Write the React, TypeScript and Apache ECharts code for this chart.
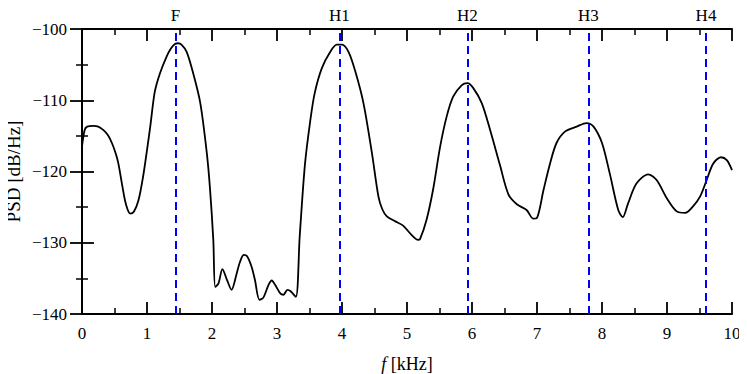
import React, { useEffect, useRef } from "react";
import * as echarts from "echarts";

const freqKHz = [
  0.0, 0.04, 0.08, 0.17, 0.25, 0.33, 0.4, 0.46, 0.52, 0.56, 0.61, 0.66, 0.7, 0.74, 0.8, 0.87, 0.94, 1.0,
  1.05, 1.12, 1.2, 1.3, 1.37, 1.43, 1.48, 1.53, 1.61, 1.71, 1.82, 1.92, 1.97, 2.02, 2.05, 2.1, 2.16,
  2.23, 2.3, 2.38, 2.43, 2.49, 2.54, 2.61, 2.66, 2.73, 2.79, 2.87, 2.92, 2.97, 3.05, 3.1, 3.16, 3.21,
  3.29, 3.35, 3.43, 3.51, 3.58, 3.69, 3.82, 3.92, 4.0, 4.1, 4.2, 4.33, 4.46, 4.56, 4.62, 4.69, 4.82,
  4.94, 5.07, 5.17, 5.2, 5.3, 5.4, 5.51, 5.61, 5.71, 5.84, 5.93, 6.02, 6.15, 6.28, 6.43, 6.56, 6.69,
  6.84, 6.94, 7.0, 7.1, 7.2, 7.3, 7.43, 7.61, 7.76, 7.87, 8.0, 8.12, 8.25, 8.32, 8.4, 8.53, 8.71, 8.84,
  9.0, 9.15, 9.28, 9.4, 9.51, 9.61, 9.71, 9.83, 9.92, 10.0,
];

const psdDb = [
  -116.5, -114.2, -113.7, -113.6, -113.7, -114.2, -114.9, -116.0, -117.5, -118.9, -121.5, -124.0,
  -125.3, -125.9, -125.6, -124.0, -120.7, -117.0, -113.7, -108.8, -106.2, -103.9, -102.7, -102.1,
  -102.0, -102.2, -103.2, -106.2, -110.4, -117.4, -122.5, -129.6, -136.2, -135.7, -133.7, -135.2,
  -136.6, -134.3, -132.7, -131.7, -131.9, -133.4, -135.2, -138.0, -137.7, -135.9, -135.3, -135.9,
  -137.1, -137.3, -136.6, -136.8, -137.6, -129.0, -119.0, -113.0, -109.0, -105.5, -103.2, -102.2,
  -102.2, -103.2, -105.8, -110.4, -117.4, -123.5, -125.3, -126.3, -127.0, -127.6, -128.9, -129.6,
  -129.5, -126.8, -122.6, -116.5, -112.3, -109.5, -107.9, -107.6, -108.3, -110.4, -114.2, -119.1,
  -123.2, -124.6, -125.4, -126.6, -126.5, -122.6, -118.9, -116.0, -114.4, -113.7, -113.2, -113.7,
  -116.0, -120.3, -125.4, -126.4, -124.5, -121.7, -120.4, -121.2, -123.8, -125.6, -125.8, -124.9,
  -123.5, -121.2, -118.9, -118.0, -118.4, -119.8,
];

const harmonicNames = ["F", "H1", "H2", "H3", "H4"];
const harmonicFreqs = [1.44, 3.96, 5.93, 7.79, 9.6];

const FONT = "'Liberation Serif', 'DejaVu Serif', serif";

export default function App() {
  const ref = useRef<HTMLDivElement>(null);

  useEffect(() => {
    if (!ref.current) return;
    const chart = echarts.init(ref.current, undefined, { renderer: "svg" });
    const minus = (v: number) => (v < 0 ? "\u2212" + Math.abs(v) : String(v));
    const axisLine = { show: true, lineStyle: { color: "#000", width: 2 } };
    const tick = { show: true, inside: true, length: 12, lineStyle: { color: "#000", width: 1.8 } };
    const minor = { show: true, splitNumber: 2, length: 6, lineStyle: { color: "#000", width: 1.5 } };

    chart.setOption({
      animation: false,
      grid: { left: 82, right: 15, top: 29, bottom: 60, outerBoundsMode: "none", containLabel: false },
      xAxis: [
        {
          type: "value",
          min: 0,
          max: 10,
          interval: 1,
          position: "bottom",
          name: "{i|f} [kHz]",
          nameLocation: "middle",
          nameGap: 41,
          nameMoveOverlap: false,
          nameTextStyle: {
            color: "#000",
            fontFamily: FONT,
            fontSize: 18,
            rich: { i: { fontStyle: "italic", fontFamily: FONT, fontSize: 18, color: "#000" } },
          },
          axisLine,
          axisTick: tick,
          minorTick: minor,
          splitLine: { show: false },
          axisLabel: { color: "#000", fontFamily: FONT, fontSize: 17, margin: 11 },
        },
        {
          type: "value",
          min: 0,
          max: 10,
          interval: 1,
          position: "top",
          axisLine,
          axisTick: tick,
          minorTick: minor,
          splitLine: { show: false },
          axisLabel: { show: false },
        },
      ],
      yAxis: [
        {
          type: "value",
          min: -140,
          max: -100,
          interval: 10,
          position: "left",
          name: "PSD [dB/Hz]",
          nameLocation: "middle",
          nameGap: 59,
          nameMoveOverlap: false,
          nameTextStyle: { color: "#000", fontFamily: FONT, fontSize: 19 },
          axisLine,
          axisTick: tick,
          minorTick: minor,
          splitLine: { show: false },
          axisLabel: { color: "#000", fontFamily: FONT, fontSize: 17, margin: 15, formatter: minus },
        },
        {
          type: "value",
          min: -140,
          max: -100,
          interval: 10,
          position: "right",
          axisLine,
          axisTick: tick,
          minorTick: minor,
          splitLine: { show: false },
          axisLabel: { show: false },
        },
      ],
      series: [
        {
          type: "line",
          xAxisIndex: 0,
          yAxisIndex: 0,
          data: freqKHz.map((f, i) => [f, psdDb[i]]),
          showSymbol: false,
          symbol: "none",
          smooth: 0.3,
          lineStyle: { color: "#000", width: 1.8 },
          markLine: {
            silent: true,
            symbol: ["none", "none"],
            lineStyle: { color: "#0000ff", width: 2, type: [8, 5] },
            label: {
              show: true,
              position: "end",
              formatter: "{b}",
              color: "#000",
              fontFamily: FONT,
              fontSize: 17,
              distance: 5,
            },
            data: harmonicFreqs.map((f, i) => ({ xAxis: f, name: harmonicNames[i] })),
          },
        },
      ],
    });
    return () => chart.dispose();
  }, []);

  return <div ref={ref} style={{ width: 747, height: 374, marginLeft: -8, marginTop: -8 }} />;
}
